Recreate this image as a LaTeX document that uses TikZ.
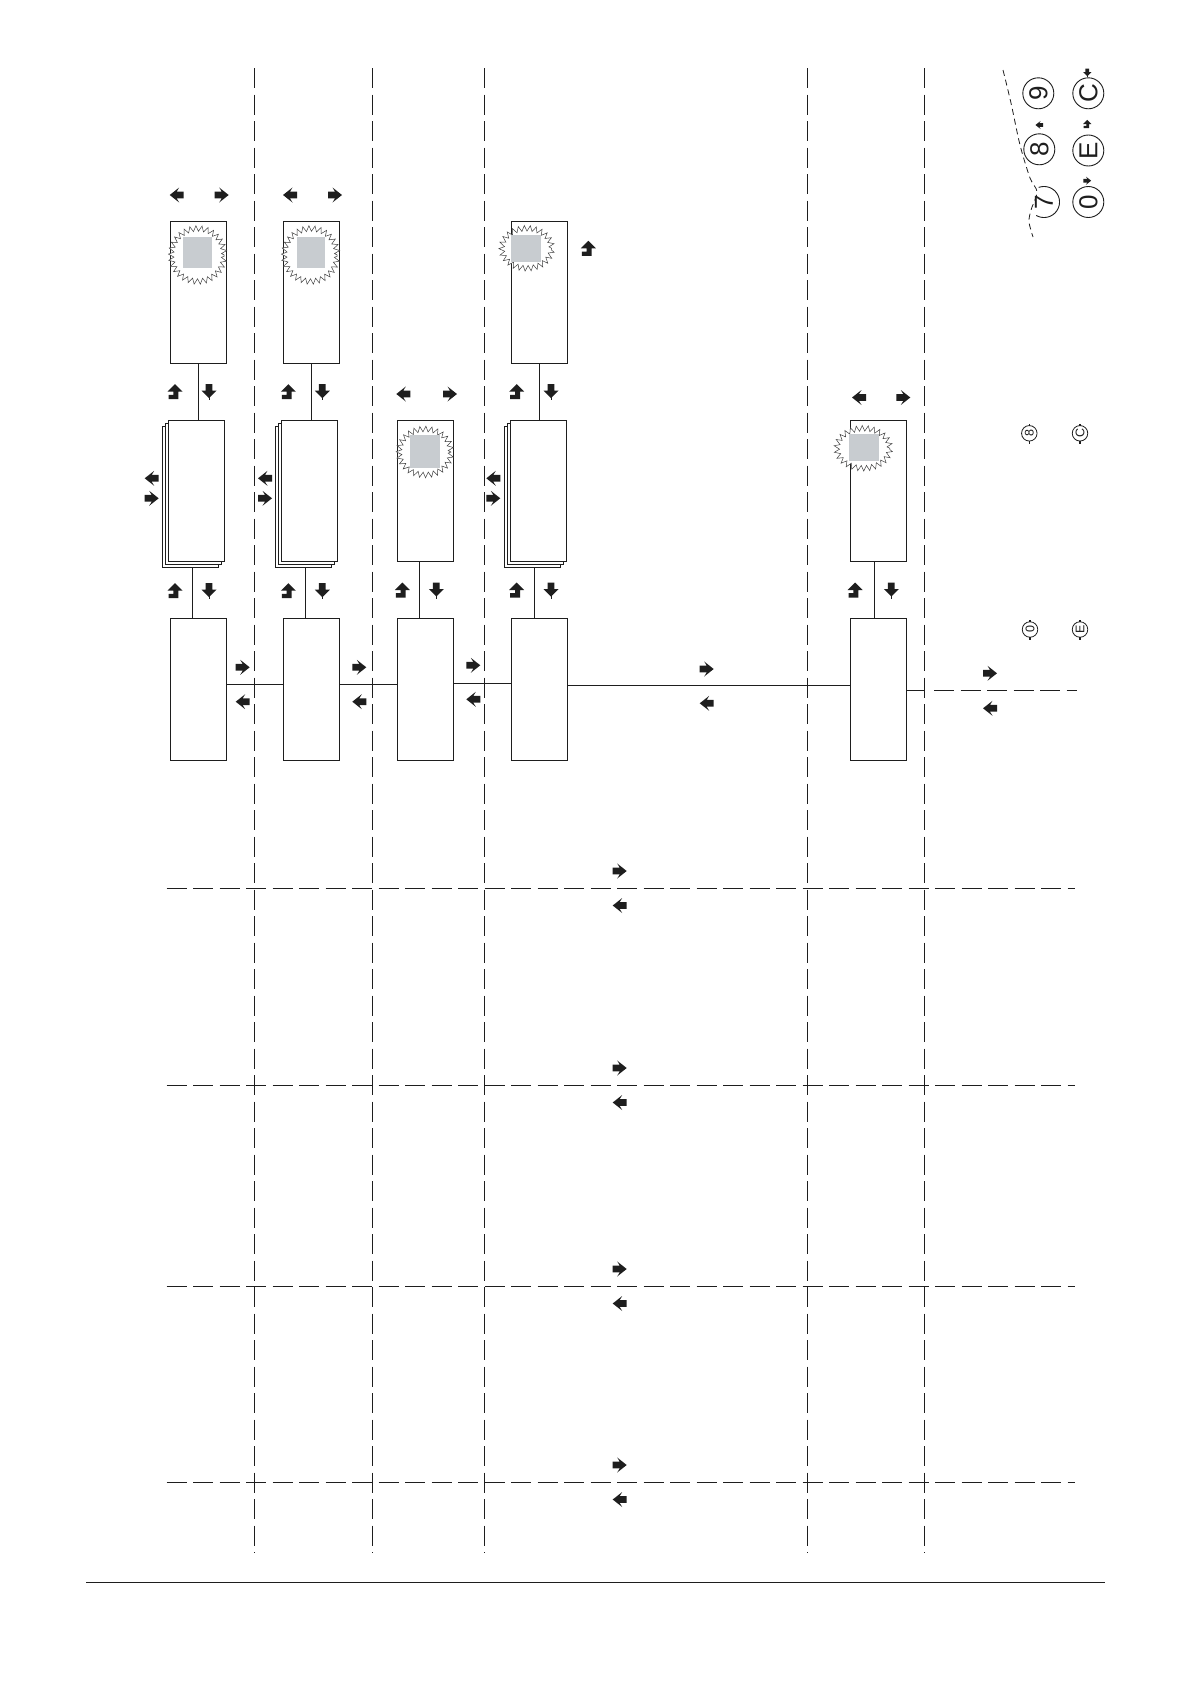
\documentclass[tikz,border=0pt]{standalone}
\usepackage{fontspec}
\newfontfamily\keyfont{Liberation Sans}
\usetikzlibrary{calc,decorations.pathmorphing}
\definecolor{ink}{HTML}{1E1E1E}
\definecolor{lcd}{HTML}{C8CCD0}
\tikzset{
  boxnode/.style={rectangle, draw=ink, line width=1.2pt, fill=white, minimum width=56pt, minimum height=142pt, inner sep=0pt},
  boxline/.style={draw=ink, line width=1.2pt},
  link/.style={draw=ink, line width=1pt},
  sep/.style={draw=ink, line width=0.95pt, dash pattern=on 20pt off 6.5pt},
  torn/.style={draw=ink, line width=0.8pt, dash pattern=on 6pt off 4pt},
  burst/.style={draw=ink!85, line width=0.5pt, fill=white, decorate, decoration={zigzag, segment length=5.6pt, amplitude=2.8pt}},
  lcdsq/.style={fill=lcd, draw=none},
  keybig/.style={circle, draw=ink, line width=0.9pt, minimum size=31pt, inner sep=0pt, rotate=90, text=ink, font=\keyfont\fontsize{26}{26}\selectfont},
  keysmall/.style={circle, draw=ink, line width=0.8pt, minimum size=15.5pt, inner sep=0pt, rotate=90, text=ink, font=\keyfont\fontsize{12.5}{12.5}\selectfont},
  rarr/.pic={\fill[ink] (-7pt,3.4pt) -- (0pt,3.4pt) -- (-2.5pt,7.5pt) -- (7pt,0pt) -- (-2.5pt,-7.5pt) -- (0pt,-3.4pt) -- (-7pt,-3.4pt) -- cycle;},
  larr/.pic={\fill[ink] (7pt,3.4pt) -- (0pt,3.4pt) -- (2.5pt,7.5pt) -- (-7pt,0pt) -- (2.5pt,-7.5pt) -- (0pt,-3.4pt) -- (7pt,-3.4pt) -- cycle;},
  uarr/.pic={\fill[ink] (-7.5pt,0pt) -- (0pt,7.5pt) -- (7.5pt,0pt) -- (3.4pt,0pt) -- (3.4pt,-7.5pt) -- (-6.5pt,-7.5pt) -- (-6.5pt,-3.2pt) -- (-1.6pt,-3.2pt) -- (-1.6pt,0pt) -- cycle;},
  darr/.pic={\fill[ink] (-3.4pt,7.5pt) -- (3.4pt,7.5pt) -- (3.4pt,1pt) -- (7.5pt,1pt) -- (0pt,-6.5pt) -- (-7.5pt,1pt) -- (-3.4pt,1pt) -- cycle;
             \draw[ink, line width=0.8pt] (0pt,-5pt) -- (0pt,-8.5pt);},
}
\begin{document}
\begin{tikzpicture}[x=1pt,y=-1pt]
\useasboundingbox[fill=white] (0,0) rectangle (1190,1684);

% separators
\foreach \x in {254.7,372.3,484.3,807.3,924} \draw[sep] (\x,68) -- (\x,1553);
\foreach \y in {888,1085,1286,1482} \draw[sep] (166.5,\y) -- (1075,\y);
\draw[sep] (934,690) -- (1077,690);
\draw[ink, line width=1pt] (86,1582) -- (1105,1582);

% top row
\node[boxnode] (t1) at (198.5,292.3) {};
\node[boxnode] (t2) at (311.3,292.3) {};
\node[boxnode] (t4) at (539.3,292.3) {};

% stacked backs
\foreach \x in {196.3,309.8,538.3}{
  \draw[boxline,fill=white] ({\x-34},426.3) rectangle ({\x+22},567.3);
  \draw[boxline,fill=white] ({\x-31},423.3) rectangle ({\x+25},564.3);
}
% middle row
\node[boxnode, minimum height=141pt] (m1) at (196.3,490.8) {};
\node[boxnode, minimum height=141pt] (m2) at (309.8,490.8) {};
\node[boxnode, minimum height=141pt] (m3) at (425.3,490.8) {};
\node[boxnode, minimum height=141pt] (m4) at (538.3,490.8) {};
\node[boxnode, minimum height=141pt] (m5) at (878.7,490.8) {};

% bottom row
\node[boxnode] (b1) at (198.5,689.3) {};
\node[boxnode] (b2) at (311.5,689.3) {};
\node[boxnode] (b3) at (425.2,689.3) {};
\node[boxnode] (b4) at (539.5,689.3) {};
\node[boxnode] (b5) at (878.7,689.3) {};

% vertical connectors
\draw[link] (t1.south) -- (t1.south |- m1.north);
\draw[link] (t2.south) -- (t2.south |- m2.north);
\draw[link] (t4.south) -- (t4.south |- m4.north);
\draw[link] ([xshift=-4pt,yshift=-6pt]m1.south) -- ([xshift=-4pt]m1.south |- b1.north);
\draw[link] ([xshift=-4.5pt,yshift=-6pt]m2.south) -- ([xshift=-4.5pt]m2.south |- b2.north);
\draw[link] ([xshift=-6pt]m3.south) -- ([xshift=-6pt]m3.south |- b3.north);
\draw[link] ([xshift=-4pt,yshift=-6pt]m4.south) -- ([xshift=-4pt]m4.south |- b4.north);
\draw[link] ([xshift=-4.4pt]m5.south) -- ([xshift=-4.4pt]m5.south |- b5.north);

% horizontal connectors
\draw[link] ([yshift=5pt]b1.east) -- ([yshift=5pt]b2.west);
\draw[link] ([yshift=5pt]b2.east) -- ([yshift=5pt]b3.west);
\draw[link] ([yshift=6pt]b3.east) -- ([yshift=6pt]b4.west);
\draw[link] ([yshift=4pt]b4.east) -- ([yshift=4pt]b5.west);
\coordinate (b5out) at (924,690);
\draw[link] ([yshift=-0.7pt]b5.east) -- (b5out);

% starbursts with LCD squares
\path[burst] (197.7,255) circle [radius=26.5pt];
\fill[lcdsq] (183.3,237) rectangle (211.7,268);
\path[burst] (310.7,255) circle [radius=26.5pt];
\fill[lcdsq] (296.5,237) rectangle (325,268);
\path[burst] (526.7,248.3) ellipse [x radius=25pt, y radius=20pt];
\fill[lcdsq] (511,235) rectangle (540.7,261.7);
\path[burst] (425,452) ellipse [x radius=26pt, y radius=23pt];
\fill[lcdsq] (410,435) rectangle (440,467.7);
\path[burst] (863.3,448.3) ellipse [x radius=26.5pt, y radius=20pt];
\fill[lcdsq] (849,434.3) rectangle (879,461);

% arrows above top boxes
\pic at (176.7,195) {larr}; \pic at (221.7,195) {rarr};
\pic at (290,195) {larr};   \pic at (335,195) {rarr};
\pic at (588.3,248.3) {uarr};
% between top and middle
\pic at (175,391.7) {uarr}; \pic at (209,391.7) {darr};
\pic at (288.3,391.7) {uarr}; \pic at (322.3,391.7) {darr};
\pic at (516.7,391.7) {uarr}; \pic at (551,391.7) {darr};
\pic at (403.3,394) {larr}; \pic at (450,394) {rarr};
\pic at (859,397.5) {larr}; \pic at (903.3,397.5) {rarr};
% beside stacks
\pic at (151.7,478.3) {larr}; \pic at (151.7,498.3) {rarr};
\pic at (265,478.3) {larr};   \pic at (265,498.3) {rarr};
\pic at (493.3,478.3) {larr}; \pic at (493.3,498.3) {rarr};
% between middle and bottom
\pic at (175,590.7) {uarr}; \pic at (209,590.7) {darr};
\pic at (288.3,590.7) {uarr}; \pic at (322.3,590.7) {darr};
\pic at (402.3,590) {uarr}; \pic at (436.3,590) {darr};
\pic at (516.7,590) {uarr}; \pic at (551,590) {darr};
\pic at (855,590) {uarr}; \pic at (891.3,590) {darr};
% bottom row links
\pic at (242.7,667.3) {rarr}; \pic at (242.7,701.7) {larr};
\pic at (359.3,667.3) {rarr}; \pic at (359.3,701.7) {larr};
\pic at (473.3,665.3) {rarr}; \pic at (473.3,699.3) {larr};
\pic at (706.7,669) {rarr};   \pic at (706.7,703.3) {larr};
\pic at (990,673.3) {rarr};   \pic at (990,708.3) {larr};
% horizontal separators
\foreach \y in {888,1085,1286,1482}{
  \pic at (619.7,{\y-17}) {rarr};
  \pic at (619.7,{\y+17.5}) {larr};
}

% keypad
\draw[torn] plot[smooth] coordinates {(1003,70) (1011,103) (1020,145) (1030,178) (1037,192) (1031,210) (1029,222) (1033,237)};
\node[keybig] (k9) at (1038.3,93.3) {9};
\node[keybig] (k8) at (1039.3,149.3) {8};
\node[keybig, draw=none] (k7) at (1044,202) {7};
\draw[ink, line width=0.9pt] plot[domain=110:-120, samples=50, variable=\a] ({1044+15.5*cos(\a)}, {202-15.5*sin(\a)});
\node[keybig] (kC) at (1088.3,93.3) {C};
\node[keybig] (kE) at (1088.3,150.5) {E};
\node[keybig] (k0) at (1088.3,202) {0};
\pic[scale=0.55] at (1087.3,72.7) {darr};
\pic[scale=0.55] at (1087.3,124) {uarr};
\pic[scale=0.55] at (1087.3,180.7) {rarr};
\pic[scale=0.55] at (1039.3,125) {larr};

\node[keysmall] (s8) at (1029.3,433.3) {8};
\node[keysmall] (sC) at (1080,433.3) {C};
\node[keysmall] (s0) at (1030,629.5) {0};
\node[keysmall] (sE) at (1080,629.5) {E};
\foreach \n in {s8,sC,s0,sE}{
  \draw[ink, line width=1.6pt] ([yshift=-7.5pt]\n.center) -- ([yshift=-10.5pt]\n.center);
  \draw[ink, line width=1.2pt] ([yshift=7.5pt]\n.center) -- ([yshift=9.5pt]\n.center);
}
\end{tikzpicture}
\end{document}
